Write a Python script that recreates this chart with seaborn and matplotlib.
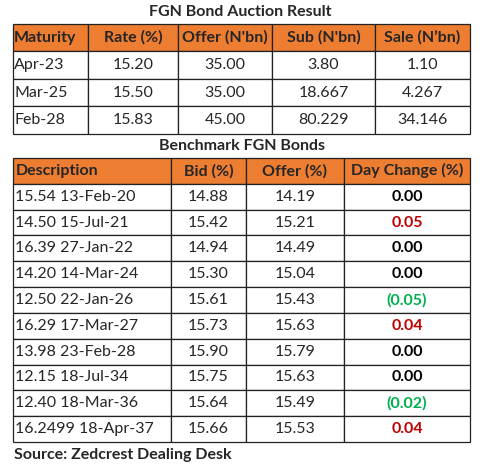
import matplotlib
matplotlib.use("Agg")
import matplotlib.pyplot as plt
import seaborn as sns

sns.set_theme(style="white")
plt.rcParams['font.family'] = ['Lato', 'DejaVu Sans']

# ---- data ----
title1 = "FGN Bond Auction Result"
auction_cols = ["Maturity", "Rate (%)", "Offer (N'bn)", "Sub (N'bn)", "Sale (N\u2019bn)"]
maturity = ["Apr-23", "Mar-25", "Feb-28"]
rate = ["15.20", "15.50", "15.83"]
offer_bn = ["35.00", "35.00", "45.00"]
sub_bn = ["3.80", "18.667", "80.229"]
sale_bn = ["1.10", "4.267", "34.146"]

title2 = "Benchmark FGN Bonds"
bench_cols = ["Description", "Bid (%)", "Offer (%)", "Day Change (%)"]
description = ["15.54 13-Feb-20", "14.50 15-Jul-21", "16.39 27-Jan-22", "14.20 14-Mar-24",
               "12.50 22-Jan-26", "16.29 17-Mar-27", "13.98 23-Feb-28", "12.15 18-Jul-34",
               "12.40 18-Mar-36", "16.2499 18-Apr-37"]
bid = [14.88, 15.42, 14.94, 15.30, 15.61, 15.73, 15.90, 15.75, 15.64, 15.66]
offer_pct = [14.19, 15.21, 14.49, 15.04, 15.43, 15.63, 15.79, 15.63, 15.49, 15.53]
day_change = [0.00, 0.05, 0.00, 0.00, -0.05, 0.04, 0.00, 0.00, -0.02, 0.04]
source = "Source: Zedcrest Dealing Desk"

# ---- styles ----
ORANGE = "#ED7D31"
RED = "#C00000"
GREEN = "#00B050"
W, H = 503, 469
FS = 11.5

fig = plt.figure(figsize=(W / 100, H / 100), dpi=100)
ax = fig.add_axes([0, 0, 1, 1])
ax.set_axis_off()


def fx(px):
    return px / W


def fy(py):
    return 1 - py / H


def build(cells, cols, widths, top, bottom, colors=None):
    tb = ax.table(cellText=cells, colLabels=cols,
                  colWidths=[w / sum(widths) for w in widths],
                  bbox=[fx(13), fy(bottom), fx(470) - fx(13), fy(top) - fy(bottom)],
                  cellLoc="center")
    tb.auto_set_font_size(False)
    tb.set_fontsize(FS)
    for (r, c), cell in tb.get_celld().items():
        cell.set_edgecolor("#222222")
        cell.set_linewidth(0.9)
        t = cell.get_text()
        t.set_fontsize(FS)
        if r == 0:
            cell.set_facecolor(ORANGE)
            t.set_fontweight("bold")
        else:
            cell.set_facecolor("white")
            if colors is not None and c == len(cols) - 1:
                t.set_color(colors[r - 1])
                t.set_fontweight("bold")
        if c == 0:
            cell._loc = "left"
            cell.PAD = 0.015
            t.set_ha("left")
    return tb


# table 1
cells1 = [list(row) for row in zip(maturity, rate, offer_bn, sub_bn, sale_bn)]
build(cells1, auction_cols, [75, 90, 94, 103, 95], 24, 134)


# table 2
def fmt(v):
    return f"({abs(v):.2f})" if v < 0 else f"{v:.2f}"


def col(v):
    return GREEN if v < 0 else (RED if v > 0 else "black")


cells2 = [[d, f"{b:.2f}", f"{o:.2f}", fmt(dc)]
          for d, b, o, dc in zip(description, bid, offer_pct, day_change)]
build(cells2, bench_cols, [158, 75, 98, 126], 158, 442,
      colors=[col(v) for v in day_change])

ax.text(fx(240), fy(12), title1, ha="center", va="center",
        fontsize=FS, fontweight="bold", transform=fig.transFigure)
ax.text(fx(242), fy(146), title2, ha="center", va="center",
        fontsize=FS, fontweight="bold", transform=fig.transFigure)
ax.text(fx(14), fy(455), source, ha="left", va="center",
        fontsize=FS, fontweight="bold", transform=fig.transFigure)

fig.savefig("out.png", dpi=100, facecolor="white")
